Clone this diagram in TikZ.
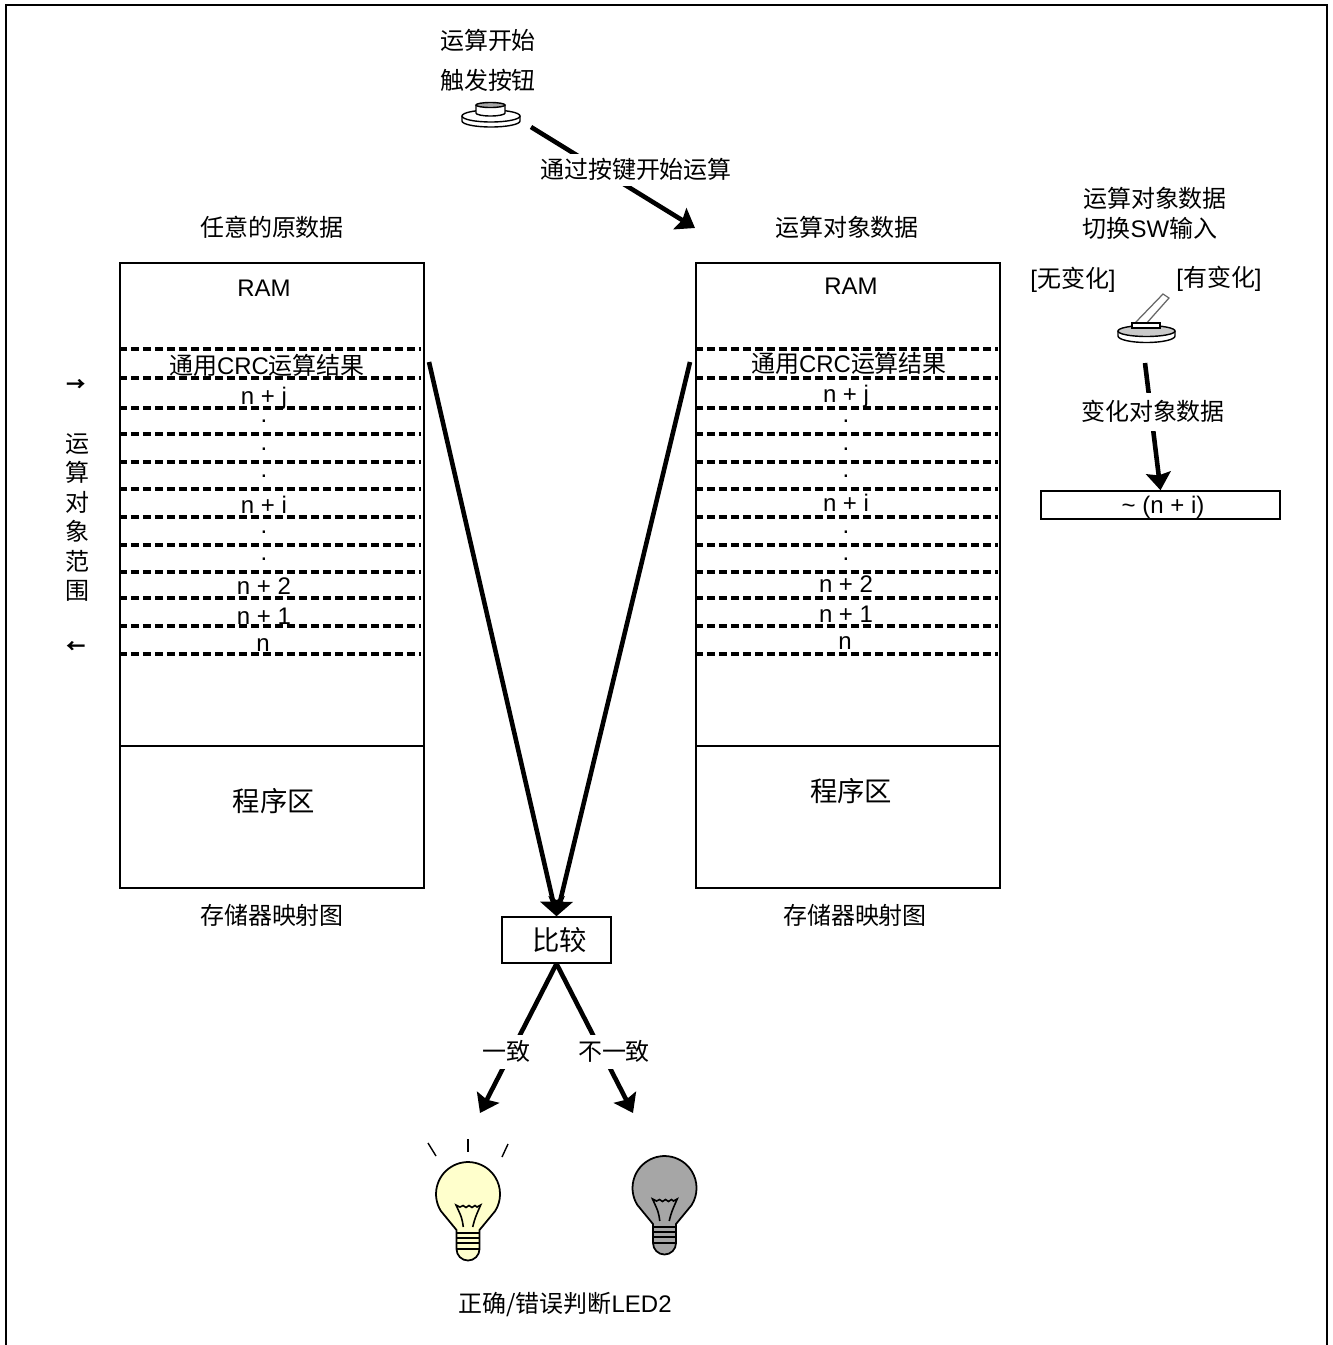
\documentclass[tikz,border=0pt]{standalone}
\usepackage{fontspec}
\setmainfont{Liberation Sans}
\newfontfamily\cjk{Noto Sans CJK SC}
\newcommand{\zh}[1]{{\cjk #1}}
\usetikzlibrary{positioning}
\usetikzlibrary{arrows.meta}
\definecolor{lampon}{RGB}{255,255,204}
\definecolor{lampoff}{RGB}{166,166,166}
\tikzset{
  memblock/.style={draw, line width=0.8pt, minimum width=172.4pt, inner sep=0},
  txt/.style={font=\fontsize{13.6}{16.7}\selectfont, inner sep=0, text height=12pt, text depth=2pt},
  coltxt/.style={font=\fontsize{13.6}{16.7}\selectfont, inner sep=0, text width=30pt, align=center},
  bigtxt/.style={font=\fontsize{15.5}{18}\selectfont, inner sep=0},
  dotmark/.style={font=\fontsize{13.6}{16}\selectfont, inner sep=0},
  cut/.style={txt, fill=white, inner xsep=1pt},
  dashline/.style={line width=2pt, dash pattern=on 4.6pt off 2.2pt},
  flow/.style={line width=2.6pt, -{Stealth[length=10pt,width=14pt,inset=1.5pt]}},
  lamp/.pic={
    \draw[line width=1pt, fill=#1] (-27.1,17) arc[start angle=148, end angle=392, radius=32]
      -- (11.5,36) -- (11.5,55) arc[start angle=0, end angle=180, radius=11.5] -- (-11.5,36) -- cycle;
    \draw[line width=0.9pt] (-11.5,39) -- (11.5,39);
    \draw[line width=0.9pt] (-11.5,44) -- (11.5,44);
    \draw[line width=0.9pt] (-11.5,49) -- (11.5,49);
    \draw[line width=0.9pt] (-11.5,55) -- (11.5,55);
    \draw[line width=0.9pt] (-4.7,33) .. controls (-6,24) .. (-12,11) -- (-8,13) -- (-5,11.5) -- (-2,13.5)
      -- (1,11.5) -- (4,13.5) -- (7,11.5) -- (9,13) -- (12.7,11) .. controls (7,24) .. (4.7,33);
  }
}

\begin{document}
\begin{tikzpicture}[x=0.567pt, y=-0.567pt]
    \useasboundingbox (0,0) rectangle (1333,1345);

    % Frame
    \draw[line width=1.2pt] (6,1345) -- (6,5) -- (1327,5) -- (1327,1345);

    % Memory maps
    \node[memblock, minimum height=273.9pt] (ramL) at (272,504.5) {};
    \node[memblock, minimum height=80.5pt, below=-0.8pt of ramL] (progL) {};
    \node[memblock, minimum height=273.9pt, right=153.4pt of ramL] (ramR) {};
    \node[memblock, minimum height=80.5pt, below=-0.8pt of ramR] (progR) {};

    \draw[dashline] (119,349) -- (421,349);
    \draw[dashline] (119,378) -- (421,378);
    \draw[dashline] (119,408) -- (421,408);
    \draw[dashline] (119,434) -- (421,434);
    \draw[dashline] (119,462) -- (421,462);
    \draw[dashline] (119,489) -- (421,489);
    \draw[dashline] (119,517) -- (421,517);
    \draw[dashline] (119,545) -- (421,545);
    \draw[dashline] (119,572) -- (421,572);
    \draw[dashline] (119,598) -- (421,598);
    \draw[dashline] (119,626) -- (421,626);
    \draw[dashline] (119,654) -- (421,654);

    \draw[dashline] (695,349) -- (998,349);
    \draw[dashline] (695,378) -- (998,378);
    \draw[dashline] (695,408) -- (998,408);
    \draw[dashline] (695,434) -- (998,434);
    \draw[dashline] (695,462) -- (998,462);
    \draw[dashline] (695,489) -- (998,489);
    \draw[dashline] (695,517) -- (998,517);
    \draw[dashline] (695,545) -- (998,545);
    \draw[dashline] (695,572) -- (998,572);
    \draw[dashline] (695,598) -- (998,598);
    \draw[dashline] (695,626) -- (998,626);
    \draw[dashline] (695,654) -- (998,654);

    % Left map texts
    \node[txt] (srcTitle) at (272,228) {\zh{任意的原数据}};
    \node[txt] (ramTextL) at (264,288) {RAM};
    \node[txt] (crcL) at (267,366) {\zh{通用}CRC\zh{运算结果}};
    \node[txt] (njL) at (264,396) {n + j};
    \node[dotmark] (d1L) at (264,421) {.};
    \node[dotmark] (d2L) at (264,449) {.};
    \node[dotmark] (d3L) at (264,476) {.};
    \node[txt] (niL) at (264,505) {n + i};
    \node[dotmark] (d4L) at (264,532) {.};
    \node[dotmark] (d5L) at (264,559) {.};
    \node[txt] (n2L) at (264,586) {n + 2};
    \node[txt] (n1L) at (264,616) {n + 1};
    \node[txt] (n0L) at (263,643) {n};
    \node[bigtxt] (progTextL) at (274,801) {\zh{程序区}};
    \node[txt] (mapL) at (272,916) {\zh{存储器映射图}};

    % Right map texts
    \node[txt] (dstTitle) at (847,228) {\zh{运算对象数据}};
    \node[txt] (ramTextR) at (851,286) {RAM};
    \node[txt] (crcR) at (849,364) {\zh{通用}CRC\zh{运算结果}};
    \node[txt] (njR) at (846,394) {n + j};
    \node[dotmark] (d1R) at (846,421) {.};
    \node[dotmark] (d2R) at (846,449) {.};
    \node[dotmark] (d3R) at (846,476) {.};
    \node[txt] (niR) at (846,503) {n + i};
    \node[dotmark] (d4R) at (846,532) {.};
    \node[dotmark] (d5R) at (846,559) {.};
    \node[txt] (n2R) at (846,584) {n + 2};
    \node[txt] (n1R) at (846,614) {n + 1};
    \node[txt] (n0R) at (845,641) {n};
    \node[bigtxt] (progTextR) at (851,791) {\zh{程序区}};
    \node[txt] (mapR) at (855,916) {\zh{存储器映射图}};

    % Range mark
    \node[txt, font=\fontsize{11}{13}\selectfont] (rangeTop) at (76,382.6) {\zh{\bfseries →}};
    \node[coltxt] (range) at (77,517.5) {\zh{运}\\\zh{算}\\\zh{对}\\\zh{象}\\\zh{范}\\\zh{围}};
    \node[txt, font=\fontsize{11}{13}\selectfont] (rangeEnd) at (76,644.6) {\zh{\bfseries ←}};

    % Start button
    \node[txt] (startA) at (488,41) {\zh{运算开始}};
    \node[txt] (startB) at (488,81) {\zh{触发按钮}};
    \draw[line width=0.8pt, fill=white] (462,116) -- (462,121) arc[start angle=180, end angle=0, x radius=29, y radius=6] -- (520,116);
    \draw[line width=0.8pt, fill=white] (491,116) ellipse[x radius=29, y radius=6];
    \draw[line width=0.8pt, fill=white] (476,105) -- (476,113) arc[start angle=180, end angle=0, x radius=14.5, y radius=3] -- (505,105);
    \draw[line width=0.8pt, fill=lampoff] (490.5,105) ellipse[x radius=14.5, y radius=2.5];

    % Data switch
    \node[txt] (swA) at (1155,199) {\zh{运算对象数据}};
    \node[txt] (swB) at (1150,229) {\zh{切换}SW\zh{输入}};
    \node[txt] (swOff) at (1073,279) {[\zh{无变化}]};
    \node[txt] (swOn) at (1219,278) {[\zh{有变化}]};
    \draw[line width=0.7pt, draw=black!60, fill=white] (1135,323) -- (1163,294) -- (1169,298) -- (1145,325) -- cycle;
    \draw[line width=0.8pt, fill=white] (1118,331) -- (1118,336) arc[start angle=180, end angle=0, x radius=28.5, y radius=6.5] -- (1175,331);
    \draw[line width=0.8pt, fill=lampoff!60] (1146.5,331) ellipse[x radius=28.5, y radius=5.5];
    \draw[line width=0.8pt, fill=white] (1132,328) -- (1132,323) -- (1160,323) -- (1160,328) -- cycle;
    \node[memblock, minimum width=135.5pt, minimum height=15.9pt] (swBox) at (1160.5,505) {};
    \node[txt] (swBoxText) at (1163,505) {\textasciitilde{} (n + i)};

    % Compare and lamps
    \node[memblock, minimum width=61.8pt, minimum height=26.1pt, bigtxt, draw] (cmp) at (556.5,940) {\hspace*{3.4pt}\zh{比较}};
    \pic at (468,1194) {lamp=lampon};
    \pic at (664.5,1188) {lamp=lampoff};
    \draw[line width=0.8pt] (428,1143) -- (436,1156);
    \draw[line width=0.8pt] (468,1139) -- (468,1152);
    \draw[line width=0.8pt] (508,1144) -- (502,1157);
    \node[txt] (result) at (565,1304) {\zh{正确/错误判断}LED2};

    % Free ends
    \coordinate (btnOut) at (531,127);
    \coordinate (btnIn) at (695,228);
    \coordinate (arrL) at (429,362);
    \coordinate (arrR) at (690,362);
    \coordinate (swOut) at (1145,363);
    \coordinate (lampA) at (480,1113);
    \coordinate (lampB) at (633,1113);

    % Connectors
    \draw[flow] (btnOut) -- (btnIn);
    \draw[flow] (arrL) -- (cmp.north);
    \draw[flow] (arrR) -- (cmp.north);
    \draw[flow] (swOut) -- (swBox.north);
    \draw[flow] (cmp.south) -- (lampA);
    \draw[flow] (cmp.south) -- (lampB);

    % Labels on connectors
    \node[cut, minimum height=18.7pt] (startLabel) at (636,170) {\zh{通过按键开始运算}};
    \node[cut, minimum height=22pt] (swLabel) at (1153,412) {\zh{变化对象数据}};
    \node[cut, minimum height=19.3pt] (sameLabel) at (506,1052) {\zh{一致}};
    \node[cut, minimum height=19.3pt] (diffLabel) at (614,1052) {\zh{不一致}};

\end{tikzpicture}
\end{document}
